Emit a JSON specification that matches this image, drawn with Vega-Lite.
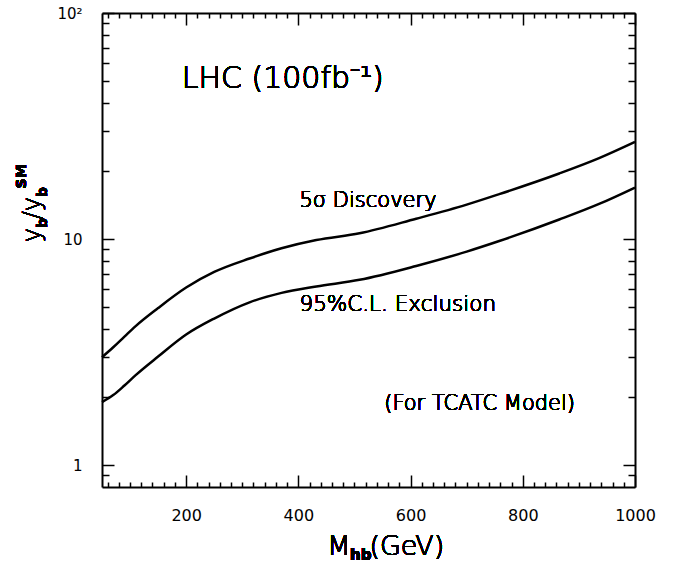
{
  "$schema": "https://vega.github.io/schema/vega-lite/v6.json",
  "width": 533,
  "height": 474,
  "autosize": {"type": "none"},
  "padding": {"left": 102, "top": 13, "right": 54, "bottom": 81},
  "background": "white",
  "config": {
    "view": {"stroke": null},
    "font": "DejaVu Sans",
    "text": {"font": "DejaVu Sans", "color": "black", "fontWeight": 200},
    "axis": {
      "domainColor": "black", "domainWidth": 2, "tickColor": "black", "tickWidth": 1.5,
      "labelColor": "black", "labelFont": "DejaVu Sans", "grid": false,
      "labelOverlap": false, "labelBound": false, "labelFlush": false
    }
  },
  "data": {
    "values": [
      {"series": "discovery", "x": 50, "y": 3.0},
      {"series": "discovery", "x": 70, "y": 3.32},
      {"series": "discovery", "x": 90, "y": 3.7},
      {"series": "discovery", "x": 110, "y": 4.12},
      {"series": "discovery", "x": 150, "y": 4.95},
      {"series": "discovery", "x": 200, "y": 6.1},
      {"series": "discovery", "x": 250, "y": 7.15},
      {"series": "discovery", "x": 313, "y": 8.2},
      {"series": "discovery", "x": 370, "y": 9.1},
      {"series": "discovery", "x": 432, "y": 9.9},
      {"series": "discovery", "x": 509, "y": 10.6},
      {"series": "discovery", "x": 610, "y": 12.3},
      {"series": "discovery", "x": 700, "y": 14.2},
      {"series": "discovery", "x": 758, "y": 15.8},
      {"series": "discovery", "x": 865, "y": 19.5},
      {"series": "discovery", "x": 936, "y": 22.8},
      {"series": "discovery", "x": 1000, "y": 26.9},
      {"series": "exclusion", "x": 50, "y": 1.9},
      {"series": "exclusion", "x": 70, "y": 2.04},
      {"series": "exclusion", "x": 90, "y": 2.25},
      {"series": "exclusion", "x": 110, "y": 2.5},
      {"series": "exclusion", "x": 150, "y": 3.02},
      {"series": "exclusion", "x": 200, "y": 3.78},
      {"series": "exclusion", "x": 250, "y": 4.45},
      {"series": "exclusion", "x": 313, "y": 5.25},
      {"series": "exclusion", "x": 370, "y": 5.78},
      {"series": "exclusion", "x": 432, "y": 6.17},
      {"series": "exclusion", "x": 509, "y": 6.6},
      {"series": "exclusion", "x": 610, "y": 7.6},
      {"series": "exclusion", "x": 700, "y": 8.8},
      {"series": "exclusion", "x": 758, "y": 9.8},
      {"series": "exclusion", "x": 865, "y": 12.2},
      {"series": "exclusion", "x": 936, "y": 14.3},
      {"series": "exclusion", "x": 1000, "y": 16.9}
    ]
  },
  "layer": [
    {
      "transform": [{"filter": "datum.series === 'discovery'"}],
      "mark": {"type": "line", "color": "black", "strokeWidth": 2.5, "interpolate": "monotone"},
      "encoding": {
        "x": {
          "field": "x", "type": "quantitative",
          "scale": {"domain": [50, 1000], "nice": false, "zero": false},
          "axis": {
            "orient": "bottom", "title": null,
            "values": [60, 80, 100, 120, 140, 160, 180, 200, 220, 240, 260, 280, 300, 320, 340, 360, 380, 400, 420, 440, 460, 480, 500, 520, 540, 560, 580, 600, 620, 640, 660, 680, 700, 720, 740, 760, 780, 800, 820, 840, 860, 880, 900, 920, 940, 960, 980, 1000],
            "tickSize": {"condition": {"test": "datum.value % 200 === 0", "value": -12}, "value": -5},
            "labelExpr": "datum.value % 200 === 0 ? format(datum.value, 'd') : ''",
            "labelFontSize": 16, "labelPadding": 32
          }
        },
        "y": {
          "field": "y", "type": "quantitative",
          "scale": {"type": "log", "domain": [0.8, 100], "nice": false},
          "axis": {
            "orient": "left", "title": null,
            "values": [0.9, 1, 2, 3, 4, 5, 6, 7, 8, 9, 10, 20, 30, 40, 50, 60, 70, 80, 90, 100],
            "tickSize": {"condition": {"test": "datum.value === 1 || datum.value === 10 || datum.value === 100", "value": -12}, "value": -7},
            "labelExpr": "datum.value === 1 ? '1' : datum.value === 10 ? '10' : datum.value === 100 ? '10²' : ''",
            "labelFontSize": 15, "labelPadding": 32
          }
        }
      }
    },
    {
      "transform": [{"filter": "datum.series === 'exclusion'"}],
      "mark": {"type": "line", "color": "black", "strokeWidth": 2.5, "interpolate": "monotone"},
      "encoding": {
        "x": {
          "field": "x", "type": "quantitative",
          "axis": {
            "orient": "top", "title": null, "labels": false,
            "values": [60, 80, 100, 120, 140, 160, 180, 200, 220, 240, 260, 280, 300, 320, 340, 360, 380, 400, 420, 440, 460, 480, 500, 520, 540, 560, 580, 600, 620, 640, 660, 680, 700, 720, 740, 760, 780, 800, 820, 840, 860, 880, 900, 920, 940, 960, 980, 1000],
            "tickSize": {"condition": {"test": "datum.value % 200 === 0", "value": -12}, "value": -5}
          }
        },
        "y": {
          "field": "y", "type": "quantitative",
          "axis": {
            "orient": "right", "title": null, "labels": false,
            "values": [0.9, 1, 2, 3, 4, 5, 6, 7, 8, 9, 10, 20, 30, 40, 50, 60, 70, 80, 90, 100],
            "tickSize": {"condition": {"test": "datum.value === 1 || datum.value === 10 || datum.value === 100", "value": -12}, "value": -7}
          }
        }
      }
    },
    {
      "mark": {"type": "text", "text": "LHC (100fb⁻¹)", "fontSize": 30, "align": "left", "baseline": "alphabetic"},
      "encoding": {"x": {"datum": 192, "type": "quantitative", "axis": null}, "y": {"datum": 46.8, "type": "quantitative", "axis": null}}
    },
    {
      "mark": {"type": "text", "text": "5σ Discovery", "fontSize": 21, "align": "left", "baseline": "alphabetic"},
      "encoding": {"x": {"datum": 402, "type": "quantitative", "axis": null}, "y": {"datum": 13.8, "type": "quantitative", "axis": null}}
    },
    {
      "mark": {"type": "text", "text": "95%C.L. Exclusion", "fontSize": 21.5, "align": "left", "baseline": "alphabetic"},
      "encoding": {"x": {"datum": 402, "type": "quantitative", "axis": null}, "y": {"datum": 4.79, "type": "quantitative", "axis": null}}
    },
    {
      "mark": {"type": "text", "text": "(For TCATC Model)", "fontSize": 21, "align": "left", "baseline": "alphabetic"},
      "encoding": {"x": {"datum": 553, "type": "quantitative", "axis": null}, "y": {"datum": 1.75, "type": "quantitative", "axis": null}}
    },
    {
      "mark": {"type": "text", "text": "M", "fontSize": 27, "align": "left", "baseline": "alphabetic", "dy": 68},
      "encoding": {"x": {"datum": 451.7, "type": "quantitative", "axis": null}, "y": {"datum": 0.8, "type": "quantitative", "axis": null}}
    },
    {
      "mark": {"type": "text", "text": "hb", "fontSize": 15, "fontWeight": "bold", "align": "left", "baseline": "alphabetic", "dy": 73},
      "encoding": {"x": {"datum": 492, "type": "quantitative", "axis": null}, "y": {"datum": 0.8, "type": "quantitative", "axis": null}}
    },
    {
      "mark": {"type": "text", "text": "(GeV)", "fontSize": 27, "align": "left", "baseline": "alphabetic", "dy": 68},
      "encoding": {"x": {"datum": 526.6, "type": "quantitative", "axis": null}, "y": {"datum": 0.8, "type": "quantitative", "axis": null}}
    },
    {
      "mark": {"type": "text", "text": "y", "fontSize": 24, "angle": 270, "align": "left", "baseline": "alphabetic", "dy": -62.5},
      "encoding": {"x": {"datum": 50, "type": "quantitative", "axis": null}, "y": {"datum": 9.67, "type": "quantitative", "axis": null}}
    },
    {
      "mark": {"type": "text", "text": "b", "fontSize": 14, "fontWeight": "bold", "angle": 270, "align": "left", "baseline": "alphabetic", "dy": -55.5},
      "encoding": {"x": {"datum": 50, "type": "quantitative", "axis": null}, "y": {"datum": 11.15, "type": "quantitative", "axis": null}}
    },
    {
      "mark": {"type": "text", "text": "/", "fontSize": 24, "angle": 270, "align": "left", "baseline": "alphabetic", "dy": -62.5},
      "encoding": {"x": {"datum": 50, "type": "quantitative", "axis": null}, "y": {"datum": 12.22, "type": "quantitative", "axis": null}}
    },
    {
      "mark": {"type": "text", "text": "y", "fontSize": 24, "angle": 270, "align": "left", "baseline": "alphabetic", "dy": -62.5},
      "encoding": {"x": {"datum": 50, "type": "quantitative", "axis": null}, "y": {"datum": 13.26, "type": "quantitative", "axis": null}}
    },
    {
      "mark": {"type": "text", "text": "b", "fontSize": 14, "fontWeight": "bold", "angle": 270, "align": "left", "baseline": "alphabetic", "dy": -55.5},
      "encoding": {"x": {"datum": 50, "type": "quantitative", "axis": null}, "y": {"datum": 15.29, "type": "quantitative", "axis": null}}
    },
    {
      "mark": {"type": "text", "text": "SM", "fontSize": 14, "fontWeight": "bold", "angle": 270, "align": "left", "baseline": "alphabetic", "dy": -76},
      "encoding": {"x": {"datum": 50, "type": "quantitative", "axis": null}, "y": {"datum": 16.75, "type": "quantitative", "axis": null}}
    }
  ],
  "resolve": {
    "scale": {"x": "shared", "y": "shared"},
    "axis": {"x": "independent", "y": "independent"}
  }
}
